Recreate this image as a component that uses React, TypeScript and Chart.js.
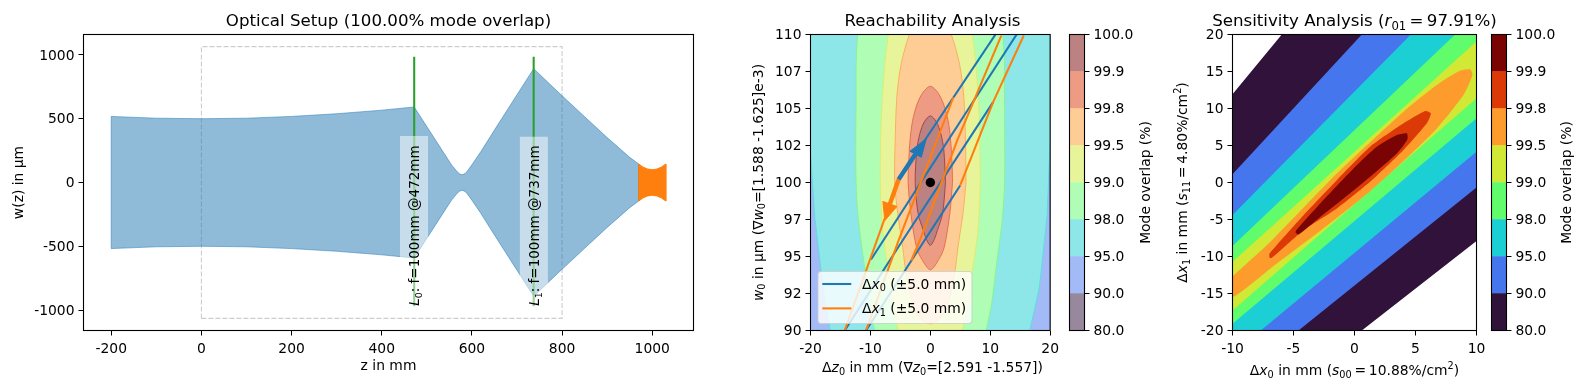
import { useEffect, useRef } from "react";
import { Chart, registerables } from "chart.js";

Chart.register(...registerables);

// ---------- values ----------
const beamZ = [-200, -100, 0, 100, 200, 300, 400, 472, 500, 520, 540, 555, 565, 572, 578, 585, 590, 600, 620, 650, 700, 737, 800, 850, 900, 950, 970];
const beamW = [518, 504, 500, 504, 518, 539, 567, 592, 438, 329, 219, 138, 95, 69, 60, 70, 90, 139, 243, 411, 688, 892, 680, 516, 352, 197, 145];
const waistZ = [970, 980, 990, 1000, 1010, 1020, 1030];
const waistW = [145, 120, 105, 100, 105, 120, 145];
const lensZ = [472, 737];
const lensTop = 985;
const lensBottom = -970;
const lensBoxes = [
  [440.5, 502.6, 365],
  [706.4, 768.5, 358],
];
const lensBoxBottom = -1000;
const lensNames = ["0", "1"];
const lensLabelY = -966;
const rangeRect = [0, 800, 1065];

const p1XTicks = [-200, 0, 200, 400, 600, 800, 1000];
const p1YTicks = [-1000, -500, 0, 500, 1000];

const levels = [80, 90, 95, 98, 99, 99.5, 99.8, 99.9, 100];
const turbo = ["#30123b", "#4676ee", "#1bcfd4", "#61fc6c", "#d1e935", "#fe9b2d", "#db3a07", "#7a0403"];
const turboSoft = ["#98889d", "#a2baf6", "#8de7e9", "#b0fdb5", "#e8f49a", "#fecd96", "#ed9c83", "#bc8181"];
const turboEdge = ["#6e5878", "#7d9af0", "#5fdce0", "#88f48e", "#dcee70", "#f8b060", "#e27050", "#a04848"];

const p2XTicks = [-20, -10, 0, 10, 20];
const p2YTicks = [90, 92.5, 95, 97.5, 100, 102.5, 105, 107.5, 110];
const p2YLabels = ["90", "92", "95", "97", "100", "102", "105", "107", "110"];

// contour outlines of the reachability map: [y, half width]; rows beyond 90..110 close the curve off-plot
const reach98 = [[118, 0], [116.5, 6], [114, 9.8], [110, 12.1], [105, 12.4], [100, 12.4], [97.5, 12.0], [94.3, 11.0], [92, 10.3], [90, 9.3], [87, 7], [84, 0]];
const reach99 = [[114.5, 0], [113.5, 3], [112, 5.3], [110, 7.0], [105, 8.1], [100, 8.36], [97, 8.0], [95, 7.4], [94, 7.0], [92, 6.4], [90, 5.3], [88, 3], [87, 0]];
const reach995 = [[112.3, 0], [111.5, 1.8], [110, 3.5], [108, 4.87], [105.8, 5.58], [102.6, 5.88], [100, 5.95], [97.9, 5.44], [95.6, 4.6], [94, 4.1], [91.6, 2.8], [90.9, 1.8], [90.45, 0]];
const reach998 = [[106.5, 0], [106.1, 1.2], [105.3, 2.2], [104.2, 2.95], [103, 3.35], [101.3, 3.62], [100, 3.7], [97.9, 3.25], [95.6, 2.3], [94.8, 1.4], [94.1, 0]];
const reach999 = [[104.5, 0], [104.1, 1.0], [103.3, 1.75], [102.2, 2.25], [100, 2.53], [97.9, 2.04], [96.76, 1.17], [96.2, 0.7], [95.75, 0]];
const reach95 = [[-20, 102], [-19.3, 97.7], [-17.9, 92.9], [-16.7, 90], [16.6, 90], [18.2, 92.9], [19.5, 97.8], [20, 103], [20, 110], [-20, 110]];
const reach90 = [[-20, 90], [20, 90], [20, 110], [-20, 110]];

const sweepX0 = [
  [[-5.3, 100.2], [11.2, 110.2]],
  [[-9.9, 94.8], [14.4, 110.0]],
  [[-14.29, 90], [-4.77, 96.0], [10.48, 105.43]],
  [[-10.74, 90], [4.98, 99.8]],
];
const sweepX1 = [
  [[-5.3, 100.2], [-14.29, 90]],
  [[3.84, 105.76], [-5.31, 96.08], [-10.74, 90]],
  [[11.84, 109.93], [4.49, 102.84], [-1.76, 96.08], [-3.18, 94.73]],
  [[15.59, 109.93], [10.48, 105.43], [4.98, 99.8]],
];
const arrowX0Shaft = [[-5.3, 100.2], [-2.53, 101.89]];
const arrowX0Head = [[-0.69, 102.95], [-3.4, 102.11], [-1.5, 101.71]];
const arrowX1Shaft = [[-5.3, 100.2], [-6.78, 98.51]];
const arrowX1Head = [[-7.59, 97.43], [-7.92, 98.72], [-5.58, 98.38]];
const optimum = [[0, 100]];

const p3XTicks = [-10, -5, 0, 5, 10];
const p3YTicks = [-20, -15, -10, -5, 0, 5, 10, 15, 20];

const sens80 = [[-10, 11.92], [-5.96, 20], [10, 20], [10, -7.9], [0.6, -20], [-10, -20]];
const sens90 = [[-10, 1.13], [0.6, 20], [10, 20], [10, -0.68], [-4.59, -20], [-10, -20]];
const sens95 = [[-10, -4.4], [4.62, 20], [10, 20], [10, 4.15], [-7.68, -20], [-10, -20]];
const sens98 = [[-10, -8.58], [8.25, 20], [10, 20], [10, 8.67], [-10, -19.1]];
const sens99 = [[-10, -10.75], [10, 19.05], [10, 11.38], [-10, -17.3]];
const sens995 = [[-10, -12.69], [-6.91, -8.04], [-1.45, 1.22], [4.02, 9.57], [6.75, 13.18], [8.66, 15.12], [9.48, 15.3], [9.67, 14.54], [8.93, 11.83], [6.75, 7.31], [4.02, 2.89], [1.28, -1.17], [-1.45, -4.79], [-4.18, -8.26], [-6.91, -11.65], [-10, -15.49]];
const sens998 = [[-6.97, -10.16], [-6.97, -9.62], [-4.18, -4.42], [-1.45, 0.32], [1.28, 4.83], [4.02, 7.99], [5.79, 9.66], [6.26, 9.35], [5.93, 7.99], [4.02, 4.38], [1.28, 0.09], [-1.45, -3.52], [-4.18, -6.46], [-6.78, -10.2]];
const sens999 = [[-4.84, -6.77], [-4.78, -6.46], [-2.81, -2.84], [-0.08, 1.9], [1.83, 4.83], [3.47, 6.41], [4.29, 6.64], [4.34, 5.82], [3.47, 3.93], [1.28, 0.77], [-0.9, -2.17], [-2.81, -4.65], [-4.59, -7.04]];

// ---------- layout of the figure ----------
const TOP = 34.5;
const BOTTOM = 330.5;
const FAMILY = '"DejaVu Sans"';
const TICK_PX = 13.89;
const TITLE_PX = 16.67;
const BLUE = "#1f77b4";
const ORANGE = "#ff7f0e";
const GREEN = "#2ca02c";

type Seg = { t: string; i?: boolean; sub?: boolean; sup?: boolean };
type Label = { segs: Seg[]; x: number; y: number; px: number; rot?: boolean; start?: boolean };

const plain = (t: string): Seg[] => [{ t }];
const UP = -Math.PI / 2;

function drawRich(ctx: CanvasRenderingContext2D, l: Label) {
  const font = (s: Seg) => `${s.i ? "italic " : ""}${s.sub || s.sup ? l.px * 0.7 : l.px}px ${FAMILY}`;
  ctx.save();
  ctx.translate(l.x, l.y);
  if (l.rot) ctx.rotate(UP);
  ctx.fillStyle = "#000";
  ctx.textBaseline = "alphabetic";
  ctx.textAlign = "left";
  let w = 0;
  for (const s of l.segs) {
    ctx.font = font(s);
    w += ctx.measureText(s.t).width;
  }
  let cx = l.start ? 0 : -w / 2;
  for (const s of l.segs) {
    ctx.font = font(s);
    const dy = s.sub ? l.px * 0.21 : s.sup ? -l.px * 0.42 : 0;
    ctx.fillText(s.t, cx, dy);
    cx += ctx.measureText(s.t).width;
  }
  ctx.restore();
}

const dx0: Seg[] = [{ t: "Δ" }, { t: "x", i: true }, { t: "0", sub: true }];
const dx1: Seg[] = [{ t: "Δ" }, { t: "x", i: true }, { t: "1", sub: true }];

// page coordinates; each chart subtracts its own canvas offset
const p1Labels: Label[] = [
  { segs: plain("Optical Setup (100.00% mode overlap)"), x: 388.5, y: 26, px: TITLE_PX },
  { segs: plain("z in mm"), x: 388.5, y: 370, px: TICK_PX },
  { segs: plain("w(z) in µm"), x: 23, y: 182.5, px: TICK_PX, rot: true },
];
const p2Labels: Label[] = [
  { segs: plain("Reachability Analysis"), x: 932.5, y: 26, px: TITLE_PX },
  {
    segs: [{ t: "Δ" }, { t: "z", i: true }, { t: "0", sub: true }, { t: " in mm (∇" }, { t: "z", i: true }, { t: "0", sub: true }, { t: "=[2.591 -1.557])" }],
    x: 932.5, y: 372, px: TICK_PX,
  },
  {
    segs: [{ t: "w", i: true }, { t: "0", sub: true }, { t: " in µm (∇" }, { t: "w", i: true }, { t: "0", sub: true }, { t: "=[1.588 -1.625]e-3)" }],
    x: 762.5, y: 182.5, px: TICK_PX, rot: true,
  },
];
const p3Labels: Label[] = [
  {
    segs: [{ t: "Sensitivity Analysis (" }, { t: "r", i: true }, { t: "01", sub: true }, { t: "\u2009=\u200997.91%)" }],
    x: 1354.5, y: 26, px: TITLE_PX,
  },
  {
    segs: [...dx0, { t: " in mm (" }, { t: "s", i: true }, { t: "00", sub: true }, { t: "\u2009=\u200910.88%/cm" }, { t: "2", sup: true }, { t: ")" }],
    x: 1354.5, y: 375, px: TICK_PX,
  },
  {
    segs: [...dx1, { t: " in mm (" }, { t: "s", i: true }, { t: "11", sub: true }, { t: "\u2009=\u20094.80%/cm" }, { t: "2", sup: true }, { t: ")" }],
    x: 1187, y: 182.5, px: TICK_PX, rot: true,
  },
];
const cbTitle = "Mode overlap (%)";
const cb2Labels: Label[] = [{ segs: plain(cbTitle), x: 1150, y: 182.5, px: TICK_PX, rot: true }];
const cb3Labels: Label[] = [{ segs: plain(cbTitle), x: 1571, y: 182.5, px: TICK_PX, rot: true }];

// ---------- helpers ----------
const pts = (a: number[][]) => a.map(([x, y]) => ({ x, y }));
const closed = (a: number[][]) => pts([...a, a[0]]);
function mirrored(profile: number[][]) {
  const ring = [
    ...profile.map(([y, h]) => [h, y]),
    ...[...profile].reverse().filter(([, h]) => h > 0).map(([y, h]) => [-h, y]),
  ];
  let widest = 0;
  ring.forEach((p, i) => {
    if (p[0] > ring[widest][0]) widest = i;
  });
  return closed([...ring.slice(widest), ...ring.slice(0, widest)]);
}

const patch = (data: { x: number; y: number }[], fill: string, edge: string, tension = 0, width = 1) => ({
  data,
  showLine: true,
  fill: "shape",
  backgroundColor: fill,
  borderColor: edge,
  borderWidth: width,
  pointRadius: 0,
  tension,
});
const stroke = (a: number[][], color: string, width: number, dash?: number[]) => ({
  data: pts(a),
  showLine: true,
  fill: false,
  borderColor: color,
  backgroundColor: color,
  borderWidth: width,
  borderDash: dash,
  pointRadius: 0,
});

function axis(min: number, max: number, ticks: number[], labels: string[], pad: number, fit: (s: any) => void, extra: any = {}) {
  return {
    type: "linear",
    min,
    max,
    afterBuildTicks: (s: any) => {
      s.ticks = ticks.map((value) => ({ value }));
    },
    ticks: {
      callback: (v: number) => labels[ticks.indexOf(v)],
      font: { family: FAMILY, size: TICK_PX },
      color: "#000",
      padding: pad,
      autoSkip: false,
      maxRotation: 0,
      minRotation: 0,
    },
    grid: { drawOnChartArea: false, drawTicks: true, tickLength: 5, color: "#000", lineWidth: 1 },
    border: { display: false },
    afterFit: fit,
    ...extra,
  };
}
const strs = (a: number[]) => a.map(String);

function framePlugin(X: number, labels: Label[], extra?: (chart: any) => void) {
  return {
    id: "frame",
    beforeDraw(chart: any) {
      // matplotlib centres y tick labels about a pixel lower than the canvas "middle" baseline
      chart.scales.y.getLabelItems().forEach((it: any) => {
        const [tx, ty] = it.options.translation;
        it.options.translation = [tx, ty + 1];
      });
    },
    afterDraw(chart: any) {
      const { ctx, chartArea: a } = chart;
      if (extra) extra(chart);
      ctx.save();
      ctx.strokeStyle = "#000";
      ctx.lineWidth = 1.1;
      ctx.strokeRect(a.left, a.top, a.right - a.left, a.bottom - a.top);
      ctx.restore();
      labels.forEach((l) => drawRich(ctx, { ...l, x: l.x - X }));
    },
  };
}

function baseOptions(padding: any, scales: any) {
  return {
    responsive: false,
    animation: false as const,
    devicePixelRatio: 1,
    events: [] as string[],
    layout: { padding },
    plugins: { legend: { display: false }, tooltip: { enabled: false }, title: { display: false } },
    scales,
  };
}

function xyChart(canvas: HTMLCanvasElement, X: number, W: number, l: number, r: number, datasets: any[], xA: any, yA: any, plugin: any) {
  return new Chart(canvas, {
    type: "scatter",
    data: { datasets: [...datasets].reverse() },
    options: baseOptions({ left: 0, top: TOP, right: X + W - r, bottom: 0 }, {
      x: axis(xA[0], xA[1], xA[2], xA[3], 6, (s: any) => { s.height = 390 - BOTTOM; }),
      y: axis(yA[0], yA[1], yA[2], yA[3], 4, (s: any) => { s.width = l - X; }),
    }) as any,
    plugins: [plugin],
  } as any);
}

function colorbar(canvas: HTMLCanvasElement, X: number, W: number, l: number, r: number, colors: string[], labels: Label[]) {
  const idx = levels.map((_, i) => i);
  return new Chart(canvas, {
    type: "bar",
    data: {
      labels: [""],
      datasets: colors.map((c, i) => ({
        label: `${levels[i]}-${levels[i + 1]}`,
        data: [1],
        backgroundColor: c,
        borderWidth: 0,
        barPercentage: 1,
        categoryPercentage: 1,
      })),
    },
    options: baseOptions({ left: l - X, top: TOP, right: 0, bottom: 390 - BOTTOM }, {
      x: { type: "category", display: false, stacked: true },
      y: axis(0, colors.length, idx, levels.map((v) => v.toFixed(1)), 4, (s: any) => { s.width = X + W - r; }, { position: "right", stacked: true }),
    }) as any,
    plugins: [framePlugin(X, labels)],
  } as any);
}

const CANVASES = [
  { X: 0, W: 760 },
  { X: 745, W: 320 },
  { X: 1060, W: 110 },
  { X: 1170, W: 340 },
  { X: 1485, W: 99 },
];

export default function App() {
  const refs = useRef<(HTMLCanvasElement | null)[]>([]);

  useEffect(() => {
    const c = refs.current as HTMLCanvasElement[];
    const charts: Chart[] = [];

    // --- optical setup ---
    const beamPoly = closed([
      ...beamZ.map((z, i) => [z, beamW[i]]),
      ...beamZ.map((z, i) => [z, -beamW[i]]).reverse(),
    ]);
    const waistPoly = closed([
      ...waistZ.map((z, i) => [z, waistW[i]]),
      ...waistZ.map((z, i) => [z, -waistW[i]]).reverse(),
    ]);
    const [rx0, rx1, ry] = rangeRect;
    const p1Sets = [
      stroke([[rx0, -ry], [rx1, -ry], [rx1, ry], [rx0, ry], [rx0, -ry]], "#cdcdcd", 1.1, [5, 2]),
      patch(beamPoly, "rgba(31,119,180,0.5)", "rgba(31,119,180,0.5)"),
      patch(waistPoly, ORANGE, ORANGE),
      ...lensZ.map((z) => stroke([[z, lensBottom], [z, lensTop]], GREEN, 2.08)),
      ...lensBoxes.map(([a, b, t]) =>
        patch(closed([[a, lensBoxBottom], [b, lensBoxBottom], [b, t], [a, t]]), "rgba(255,255,255,0.5)", "rgba(255,255,255,0)", 0, 0)
      ),
    ];
    charts.push(
      xyChart(c[0], 0, 760, 83.5, 693.5, p1Sets,
        [-261.5, 1091.5, p1XTicks, strs(p1XTicks)],
        [-1160, 1160, p1YTicks, strs(p1YTicks)],
        framePlugin(0, p1Labels, (chart: any) => {
          lensZ.forEach((z, i) => {
            drawRich(chart.ctx, {
              segs: [{ t: "L", i: true }, { t: lensNames[i], sub: true }, { t: ": f=100mm @" + z + "mm" }],
              x: chart.scales.x.getPixelForValue(z) + 5,
              y: chart.scales.y.getPixelForValue(lensLabelY),
              px: 13.5,
              rot: true,
              start: true,
            });
          });
        })
      )
    );

    // --- reachability ---
    const reachLevels: [any, number, number][] = [
      [closed(reach90), 1, 0],
      [closed(reach95), 2, 0],
      [mirrored(reach98), 3, 0.3],
      [mirrored(reach99), 4, 0.3],
      [mirrored(reach995), 5, 0.3],
      [mirrored(reach998), 6, 0.3],
      [mirrored(reach999), 7, 0.3],
    ];
    const p2Sets = [
      ...reachLevels.map(([d, lv, t]) => patch(d, turboSoft[lv], turboEdge[lv], t)),
      ...sweepX0.map((a) => stroke(a, BLUE, 2.08)),
      ...sweepX1.map((a) => stroke(a, ORANGE, 2.08)),
      stroke(arrowX0Shaft, BLUE, 4.4),
      patch(closed(arrowX0Head), BLUE, BLUE),
      stroke(arrowX1Shaft, ORANGE, 4.4),
      patch(closed(arrowX1Head), ORANGE, ORANGE),
      { data: pts(optimum), pointRadius: 4.7, backgroundColor: "#000", borderWidth: 0, showLine: false },
    ];
    charts.push(
      xyChart(c[1], 745, 320, 810.5, 1054.5, p2Sets,
        [-20, 20, p2XTicks, strs(p2XTicks)],
        [90, 110, p2YTicks, p2YLabels],
        framePlugin(745, p2Labels, (chart: any) => {
          const ctx = chart.ctx as CanvasRenderingContext2D;
          const ox = 745;
          ctx.save();
          ctx.beginPath();
          (ctx as any).roundRect(818 - ox, 271.5, 154, 52, 3);
          ctx.fillStyle = "rgba(255,255,255,0.8)";
          ctx.fill();
          ctx.strokeStyle = "rgba(204,204,204,0.8)";
          ctx.lineWidth = 1.1;
          ctx.stroke();
          [[BLUE, 284], [ORANGE, 308.4]].forEach(([col, y]) => {
            ctx.beginPath();
            ctx.moveTo(822.3 - ox, y as number);
            ctx.lineTo(851.3 - ox, y as number);
            ctx.strokeStyle = col as string;
            ctx.lineWidth = 2.08;
            ctx.stroke();
          });
          ctx.restore();
          drawRich(ctx, { segs: [...dx0, { t: " (±5.0 mm)" }], x: 862 - ox, y: 288.5, px: TICK_PX, start: true });
          drawRich(ctx, { segs: [...dx1, { t: " (±5.0 mm)" }], x: 862 - ox, y: 313, px: TICK_PX, start: true });
        })
      )
    );
    charts.push(colorbar(c[2], 1060, 110, 1069.5, 1084.5, turboSoft, cb2Labels));

    // --- sensitivity ---
    const sensLevels: [any, number, number][] = [
      [closed(sens80), 0, 0],
      [closed(sens90), 1, 0],
      [closed(sens95), 2, 0],
      [closed(sens98), 3, 0],
      [closed(sens99), 4, 0],
      [closed(sens995), 5, 0.2],
      [closed(sens998), 6, 0.2],
      [closed(sens999), 7, 0.2],
    ];
    const p3Sets = sensLevels.map(([d, lv, t]) => patch(d, turbo[lv], turbo[lv], t, 0));
    charts.push(
      xyChart(c[3], 1170, 340, 1232.5, 1476.5, p3Sets,
        [-10, 10, p3XTicks, strs(p3XTicks)],
        [-20, 20, p3YTicks, strs(p3YTicks)],
        framePlugin(1170, p3Labels)
      )
    );
    charts.push(colorbar(c[4], 1485, 99, 1491.5, 1506.5, turbo, cb3Labels));

    return () => charts.forEach((ch) => ch.destroy());
  }, []);

  return (
    <div style={{ position: "absolute", left: 0, top: 0, width: 1584, height: 390, background: "#fff", overflow: "hidden" }}>
      {CANVASES.map((cv, i) => (
        <canvas
          key={i}
          ref={(el) => { refs.current[i] = el; }}
          width={cv.W}
          height={390}
          style={{ position: "absolute", left: cv.X, top: 0, width: cv.W, height: 390, display: "block" }}
        />
      ))}
    </div>
  );
}
